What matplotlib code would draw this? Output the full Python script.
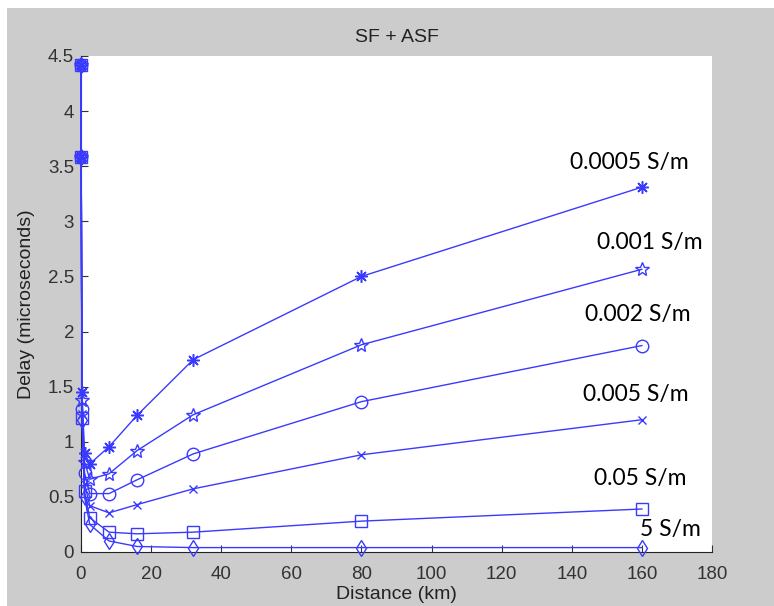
import matplotlib.pyplot as plt
from matplotlib.patches import Rectangle

# distances (km) shared by every curve
distance = [0.01, 0.05, 0.3, 1, 2.5, 8, 16, 32, 80, 160]

delay_00005 = [4.42, 3.58, 1.45, 0.90, 0.80, 0.955, 1.24, 1.745, 2.50, 3.31]
delay_0001 = [4.42, 3.58, 1.38, 0.82, 0.66, 0.71, 0.92, 1.245, 1.88, 2.565]
delay_0002 = [4.42, 3.58, 1.30, 0.72, 0.53, 0.53, 0.655, 0.89, 1.364, 1.873]
delay_0005 = [4.42, 3.58, 1.25, 0.62, 0.42, 0.355, 0.43, 0.573, 0.882, 1.20]
delay_005 = [4.42, 3.58, 1.22, 0.55, 0.31, 0.18, 0.165, 0.18, 0.28, 0.39]
delay_5 = [4.42, 3.58, 1.20, 0.50, 0.25, 0.10, 0.05, 0.04, 0.04, 0.04]

labels = ["0.0005 S/m", "0.001 S/m", "0.002 S/m", "0.005 S/m", "0.05 S/m", "5 S/m"]
label_pos = [(139.5, 3.53), (147.3, 2.81), (143.8, 2.155), (143.2, 1.43), (146.3, 0.67), (159.5, 0.20)]

x_ticks = list(range(0, 181, 20))
y_ticks = [0, 0.5, 1, 1.5, 2, 2.5, 3, 3.5, 4, 4.5]
y_tick_labels = ["0", "0.5", "1", "1.5", "2", "2.5", "3", "3.5", "4", "4.5"]

plt.rcParams['font.family'] = ['Liberation Sans', 'DejaVu Sans']

fig = plt.figure(figsize=(7.74, 6.06), dpi=100)
fig.patch.set_facecolor('white')
fig.add_artist(Rectangle((7 / 774, 0), 1, 1 - 8 / 606, transform=fig.transFigure,
                         facecolor='#cccccc', edgecolor='none', zorder=-10))

ax = fig.add_axes([81 / 774, 54 / 606, 631 / 774, 496 / 606])
ax.set_facecolor('white')

blue = '#3a3aff'
series = [
    (delay_00005, dict(marker=(8, 2, 0), markersize=9, markeredgewidth=1.1)),
    (delay_0001, dict(marker='*', markersize=10, markerfacecolor='none')),
    (delay_0002, dict(marker='o', markersize=9, markerfacecolor='none')),
    (delay_0005, dict(marker='x', markersize=6)),
    (delay_005, dict(marker='s', markersize=8, markerfacecolor='none')),
    (delay_5, dict(marker='d', markersize=8, markerfacecolor='none')),
]
for values, style in series:
    ax.plot(distance, values, color=blue, linewidth=1.0, markeredgecolor=blue,
            clip_on=False, zorder=3, **style)

for text, (tx, ty) in zip(labels, label_pos):
    ax.text(tx, ty, text, fontsize=16.5, family=['Lato', 'DejaVu Sans'],
            va='center', ha='left', color='black')

ax.set_xlim(0, 180)
ax.set_ylim(0, 4.5)
ax.set_xticks(x_ticks)
ax.set_yticks(y_ticks)
ax.set_yticklabels(y_tick_labels)
ax.tick_params(direction='in', length=5, labelsize=13.5, colors='#333333', pad=5)
ax.tick_params(axis='x', pad=10)
ax.spines['top'].set_visible(False)
ax.spines['right'].set_visible(False)
ax.spines['left'].set_color('#222222')
ax.spines['bottom'].set_color('#222222')

ax.set_title('SF + ASF', fontsize=14, pad=10, color='#222222')
ax.set_xlabel('Distance (km)', fontsize=14, color='#222222', labelpad=2)
ax.set_ylabel('Delay (microseconds)', fontsize=14, color='#222222', labelpad=9)

plt.savefig('out.png', dpi=100)
